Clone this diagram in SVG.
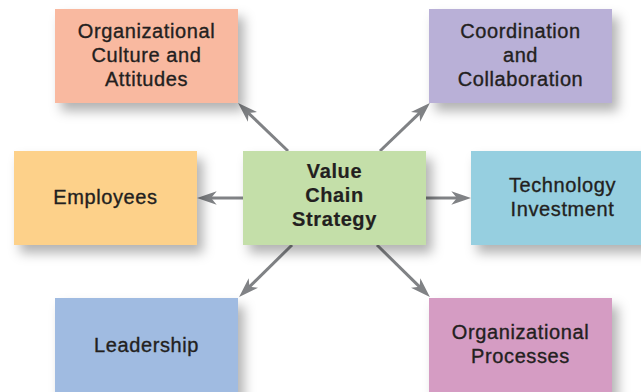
<svg xmlns="http://www.w3.org/2000/svg" width="641" height="392" viewBox="0 0 641 392">
<style>
  .lbl { font-family: "Liberation Sans", Arial, sans-serif; font-size: 20px; letter-spacing: 0.6px; fill: #231f20; stroke: #231f20; stroke-width: 0.35px; text-anchor: middle; }
  .bold { font-weight: bold; stroke-width: 0.2px; letter-spacing: 0.6px; }
  .box { filter: url(#sh); }
  .conn { stroke: #808285; stroke-width: 3; fill: none; marker-end: url(#ah); }
</style>
<defs>
  <filter id="sh" x="-20%" y="-20%" width="150%" height="160%">
    <feDropShadow dx="6" dy="8" stdDeviation="6" flood-color="#000" flood-opacity="0.3"/>
  </filter>
  <marker id="ah" markerUnits="userSpaceOnUse" markerWidth="20" markerHeight="14" viewBox="0 0 18 12" refX="6" refY="6" orient="auto">
    <path d="M18,6 L0,0 L5,6 L0,12 Z" fill="#808285"/>
  </marker>
</defs>
<rect width="641" height="392" fill="#fff"/>
<g id="connectors">
  <line class="conn" x1="288" y1="151" x2="247.7" y2="112.3"/>
  <line class="conn" x1="380" y1="151" x2="420.3" y2="112.3"/>
  <line class="conn" x1="243" y1="198" x2="210" y2="198"/>
  <line class="conn" x1="426" y1="198" x2="458" y2="198"/>
  <line class="conn" x1="292" y1="245" x2="248.6" y2="287.6"/>
  <line class="conn" x1="377" y1="245" x2="420.4" y2="287.6"/>
</g>
<g id="culture">
  <rect class="box" x="55" y="9" width="183" height="94" fill="#f9b9a0"/>
  <text class="lbl" x="146.5" y="37.7">Organizational</text>
  <text class="lbl" x="146.5" y="61.7">Culture and</text>
  <text class="lbl" x="146.5" y="85.7">Attitudes</text>
</g>
<g id="coordination">
  <rect class="box" x="429" y="9" width="183" height="94" fill="#b9b0d7"/>
  <text class="lbl" x="520.5" y="37.7">Coordination</text>
  <text class="lbl" x="520.5" y="61.7">and</text>
  <text class="lbl" x="520.5" y="85.7">Collaboration</text>
</g>
<g id="employees">
  <rect class="box" x="14" y="151" width="183" height="94" fill="#fdd18a"/>
  <text class="lbl" x="105.5" y="204">Employees</text>
</g>
<g id="technology">
  <rect class="box" x="471" y="151" width="183" height="94" fill="#96cfe0"/>
  <text class="lbl" x="562.5" y="191.5">Technology</text>
  <text class="lbl" x="562.5" y="215.5">Investment</text>
</g>
<g id="leadership">
  <rect class="box" x="55" y="298" width="183" height="100" fill="#a0bbe1"/>
  <text class="lbl" x="146.5" y="351.7">Leadership</text>
</g>
<g id="processes">
  <rect class="box" x="429" y="298" width="183" height="100" fill="#d59cc3"/>
  <text class="lbl" x="520.5" y="339.3">Organizational</text>
  <text class="lbl" x="520.5" y="363.3">Processes</text>
</g>
<g id="center">
  <rect class="box" x="243" y="151" width="183" height="94" fill="#c4dfa9"/>
  <text class="lbl bold" x="334.5" y="178">Value</text>
  <text class="lbl bold" x="334.5" y="202">Chain</text>
  <text class="lbl bold" x="334.5" y="226">Strategy</text>
</g>
</svg>
